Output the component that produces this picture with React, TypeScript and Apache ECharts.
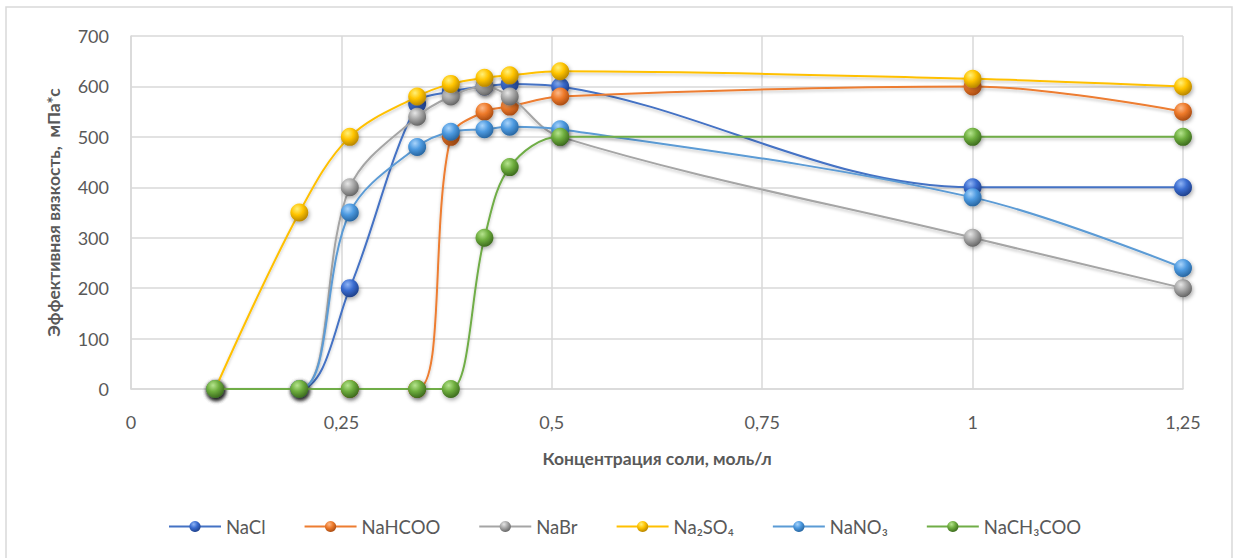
import React, { useEffect, useRef } from "react";
import * as echarts from "echarts";

// Salt concentration, mol/L
const concentrations = [0.1, 0.2, 0.26, 0.34, 0.38, 0.42, 0.45, 0.51, 1, 1.25];

// Effective viscosity, mPa*s, per salt
const naCl = [0, 0, 200, 565, 590, 600, 605, 600, 400, 400];
const naHCOO = [0, 0, 0, 0, 500, 550, 560, 580, 600, 550];
const naBr = [0, 0, 400, 540, 580, 600, 580, 500, 300, 200];
const na2SO4 = [0, 350, 500, 580, 605, 617, 622, 630, 615, 600];
const naNO3 = [0, 0, 350, 480, 510, 515, 520, 515, 380, 240];
const naCH3COO = [0, 0, 0, 0, 0, 300, 440, 500, 500, 500];

const seriesNames = ["NaCl", "NaHCOO", "NaBr", "Na₂SO₄", "NaNO₃", "NaCH₃COO"];
const seriesValues = [naCl, naHCOO, naBr, na2SO4, naNO3, naCH3COO];
// [line, highlight, base, shade]
const palette = [
  ["#4472C4", "#8fb4f5", "#3a6cd0", "#1c3c84"],
  ["#ED7D31", "#fbb98a", "#ee7a2a", "#a24710"],
  ["#A5A5A5", "#e6e6e6", "#a8a8a8", "#5e5e5e"],
  ["#FFC000", "#fff07a", "#ffc400", "#b07f00"],
  ["#5B9BD5", "#a9d4fb", "#4d9ae0", "#23609a"],
  ["#70AD47", "#b6e48f", "#6eae3e", "#37641a"],
];

const yTicks = [0, 100, 200, 300, 400, 500, 600, 700];

const FONT = "Lato, 'Open Sans', sans-serif";

function sphere(c: string[]) {
  return new echarts.graphic.RadialGradient(0.38, 0.3, 0.75, [
    { offset: 0, color: c[1] },
    { offset: 0.45, color: c[2] },
    { offset: 1, color: c[3] },
  ]);
}

export default function App() {
  const ref = useRef<HTMLDivElement>(null);

  useEffect(() => {
    if (!ref.current) return;
    const chart = echarts.init(ref.current, undefined, { renderer: "svg" });

    const series = seriesNames.map((name, i) => ({
      name,
      type: "line",
      data: concentrations.map((x, k) => [x, seriesValues[i][k]]),
      smooth: 0.35,
      symbol: "circle",
      symbolSize: 18,
      z: 2 + i,
      lineStyle: {
        color: palette[i][0],
        width: 2,
        shadowColor: "rgba(0,0,0,0.22)",
        shadowBlur: 3,
        shadowOffsetY: 2,
      },
      itemStyle: {
        color: sphere(palette[i]),
        shadowColor: "rgba(0,0,0,0.35)",
        shadowBlur: 4,
        shadowOffsetX: 1,
        shadowOffsetY: 2,
      },
    }));

    chart.setOption({
      animation: false,
      backgroundColor: "#ffffff",
      textStyle: { fontFamily: FONT },
      graphic: [
        {
          type: "rect",
          shape: { x: 6, y: 7, width: 1226, height: 570 },
          style: { fill: "none", stroke: "#d9d9d9", lineWidth: 1.5 },
          silent: true,
        },
      ],
      grid: { left: 131, right: 51, top: 36, bottom: 169 },
      legend: {
        left: 163,
        top: 512,
        itemWidth: 52,
        itemHeight: 14,
        itemGap: 38,
        textStyle: { fontSize: 18.5, color: "#595959", fontFamily: FONT },
        data: seriesNames.map((name, i) => ({
          name,
          itemStyle: { color: sphere(palette[i]) },
          lineStyle: { color: palette[i][0], width: 2 },
        })),
      },
      xAxis: {
        type: "value",
        min: 0,
        max: 1.25,
        interval: 0.25,
        name: "Концентрация соли, моль/л",
        nameLocation: "middle",
        nameGap: 60,
        nameTextStyle: { fontSize: 17.5, fontWeight: "bold", color: "#595959", fontFamily: FONT },
        axisLine: { show: true, lineStyle: { color: "#d9d9d9", width: 1.5 } },
        axisTick: { show: false },
        axisLabel: {
          fontSize: 18,
          color: "#595959",
          margin: 24,
          fontFamily: FONT,
          formatter: (v: number) => String(v).replace(".", ","),
        },
        splitLine: { show: true, lineStyle: { color: "#d9d9d9", width: 1.5 } },
      },
      yAxis: {
        type: "value",
        min: yTicks[0],
        max: yTicks[yTicks.length - 1],
        interval: 100,
        name: "Эффективная вязкость,  мПа*с",
        nameLocation: "middle",
        nameGap: 69,
        nameTextStyle: { fontSize: 17.5, fontWeight: "bold", color: "#595959", fontFamily: FONT },
        axisLine: { show: true, lineStyle: { color: "#d9d9d9", width: 1.5 } },
        axisTick: { show: false },
        axisLabel: { fontSize: 18, color: "#595959", margin: 22, fontFamily: FONT },
        splitLine: { show: true, lineStyle: { color: "#d9d9d9", width: 1.5 } },
      },
      series,
    });

    return () => chart.dispose();
  }, []);

  return (
    <div
      ref={ref}
      style={{ position: "fixed", left: 0, top: 0, width: 1234, height: 558 }}
    />
  );
}
